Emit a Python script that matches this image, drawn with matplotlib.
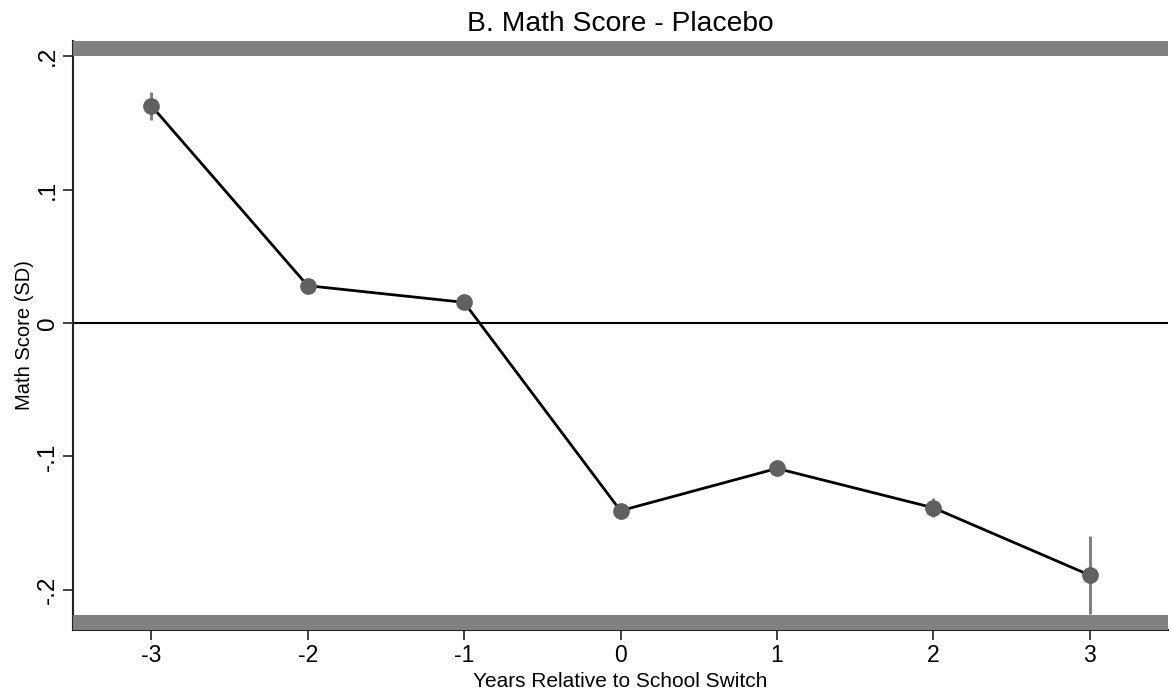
import matplotlib
matplotlib.use("Agg")
import matplotlib.pyplot as plt

plt.rcParams['font.family'] = ['Liberation Sans', 'DejaVu Sans']

# event-study estimates: years relative to switch, coefficient, half-width of CI
years = [-3, -2, -1, 0, 1, 2, 3]
coef = [0.163, 0.028, 0.0155, -0.1407, -0.109, -0.1385, -0.189]
ci_half = [0.0105, 0.002, 0.002, 0.002, 0.002, 0.007, 0.029]
yticks = [-0.2, -0.1, 0, 0.1, 0.2]
yticklabels = ['-.2', '-.1', '0', '.1', '.2']

fig = plt.figure(figsize=(11.72, 7), dpi=100)
ax = fig.add_axes([73 / 1172, 70 / 700, 1095 / 1172, 589 / 700])

ax.set_xlim(-3.5, 3.5)
ax.set_ylim(-0.2301, 0.2114)

# shaded bands at top and bottom of plot region
ax.axhspan(0.2, 0.2114, color='#808080', lw=0, zorder=4)
ax.axhspan(-0.2301, -0.2188, color='#808080', lw=0, zorder=4)

ax.axhline(0, color='black', lw=1.5, zorder=1)

ax.errorbar(years, coef, yerr=ci_half, fmt='none', ecolor='#808080',
            elinewidth=2.2, capsize=0, zorder=2)
ax.plot(years, coef, color='black', lw=2, zorder=3)
ax.plot(years, coef, 'o', color='#606060', ms=11, mec='#606060', zorder=3.5)

ax.set_xticks(years)
ax.set_xticklabels([str(y) for y in years], fontsize=16.5)
ax.set_yticks(yticks)
ax.set_yticklabels(yticklabels, fontsize=17.5, rotation=90, va='center')
ax.tick_params(axis='both', length=7, width=1.3, color='#333333', pad=3)

for side in ['top', 'right']:
    ax.spines[side].set_visible(False)
for side in ['left', 'bottom']:
    ax.spines[side].set_linewidth(1.5)
    ax.spines[side].set_color('#222222')

ax.set_xlabel('Years Relative to School Switch', fontsize=15, labelpad=4)
ax.set_ylabel('Math Score (SD)', fontsize=14.5, labelpad=2)
ax.set_title('B. Math Score - Placebo', fontsize=20.3, pad=7)

fig.savefig('out.png', dpi=100)
